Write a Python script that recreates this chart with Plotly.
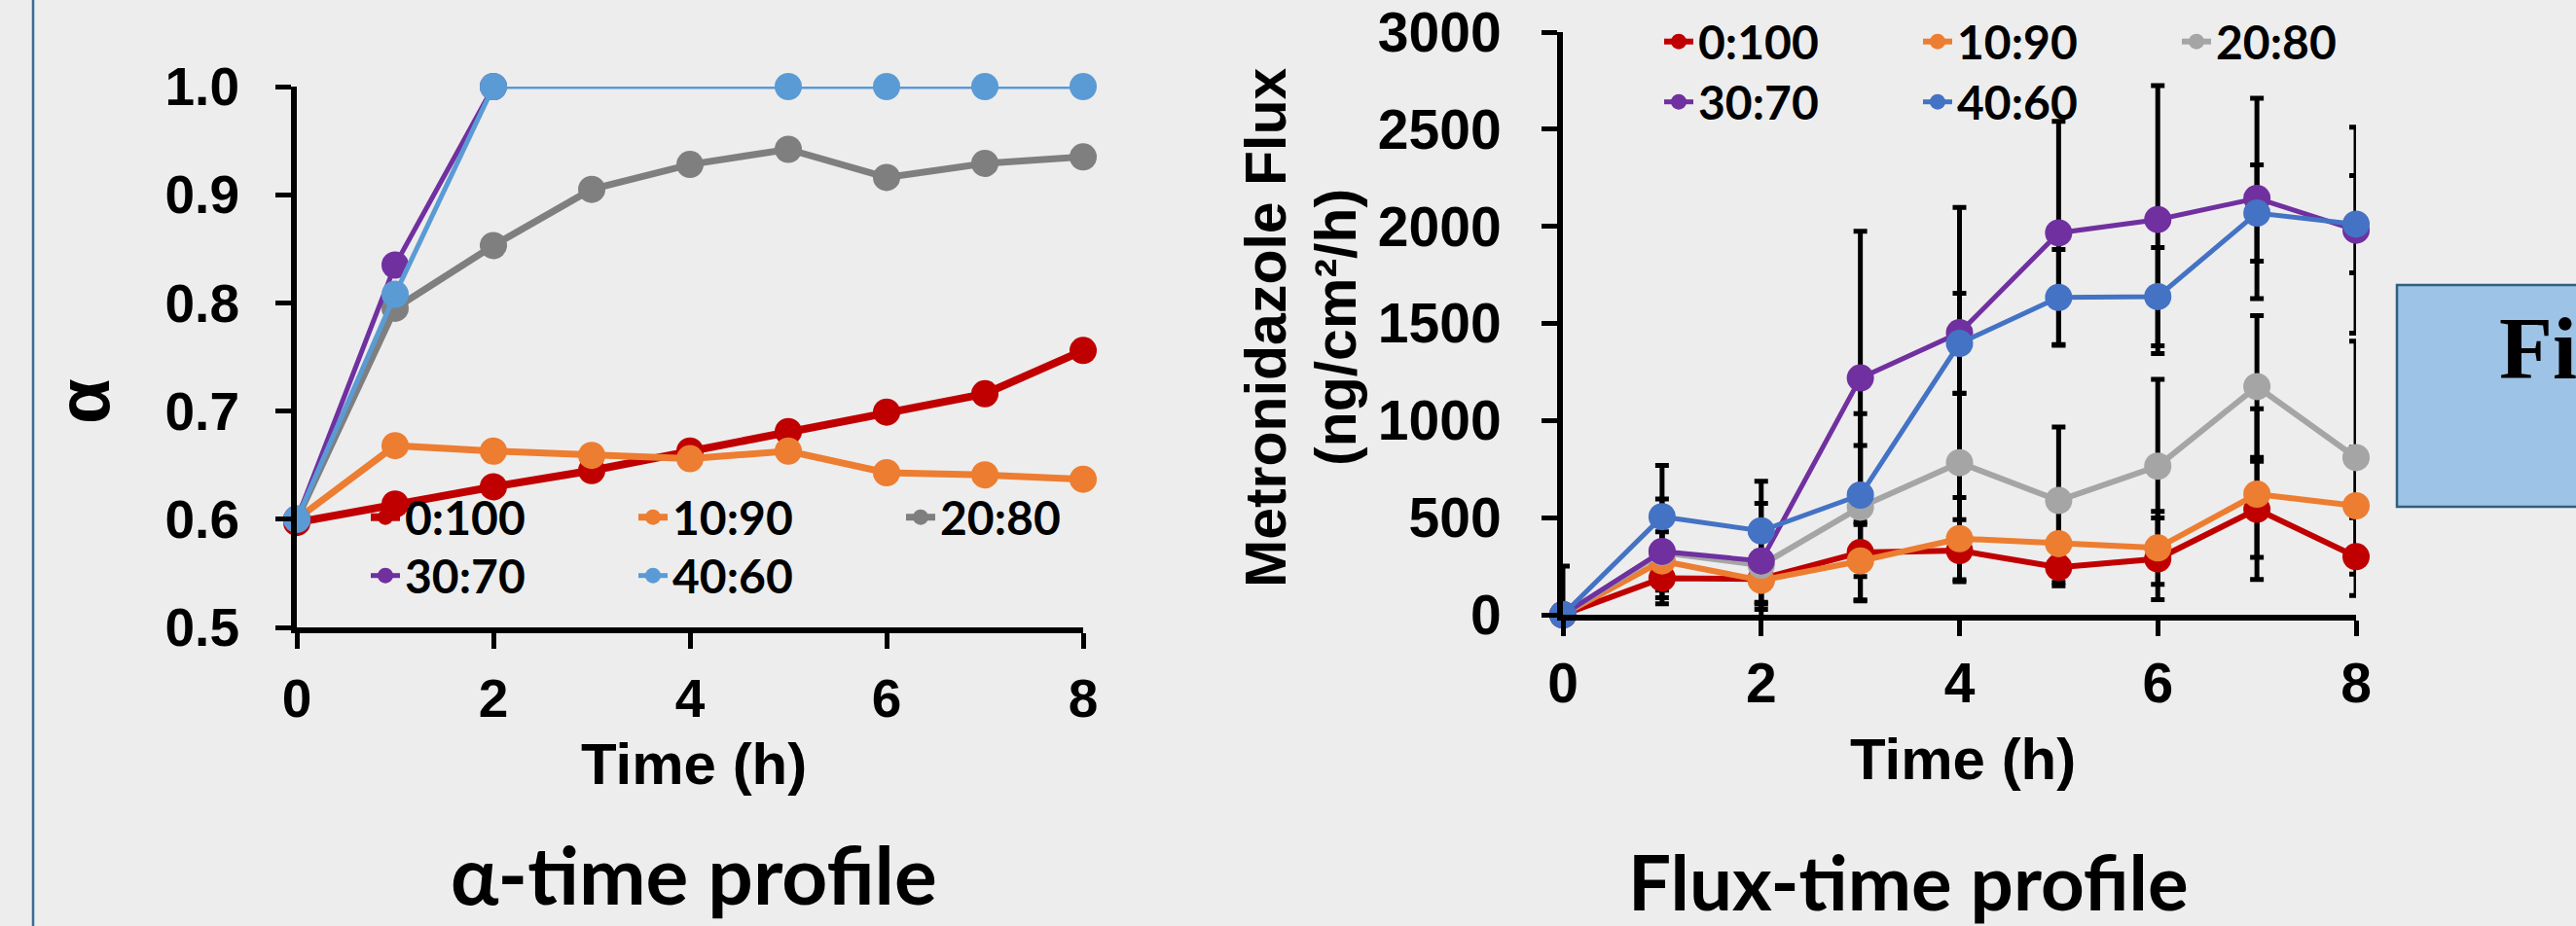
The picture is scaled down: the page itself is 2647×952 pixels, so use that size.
import plotly.graph_objects as go

W, H = 2647, 952

# ---------------- data ----------------
time_h = [0, 1, 2, 3, 4, 5, 6, 7, 8]
series_names = ["0:100", "10:90", "20:80", "30:70", "40:60"]

# alpha-time profile
alpha_0_100 = [0.597, 0.614, 0.630, 0.645, 0.663, 0.681, 0.699, 0.716, 0.756]
alpha_10_90 = [0.600, 0.668, 0.663, 0.659, 0.656, 0.663, 0.643, 0.641, 0.637]
alpha_20_80 = [0.600, 0.795, 0.853, 0.905, 0.928, 0.942, 0.916, 0.929, 0.935]
alpha_30_70_time = [0, 1, 2]
alpha_30_70 = [0.600, 0.835, 1.000]
alpha_40_60_time = [0, 1, 2, 5, 6, 7, 8]
alpha_40_60 = [0.600, 0.808, 1.000, 1.000, 1.000, 1.000, 1.000]

# flux-time profile (ng/cm2/h)
flux_0_100 = [0, 188, 184, 321, 330, 244, 288, 543, 299]
flux_10_90 = [0, 277, 177, 277, 392, 366, 344, 621, 561]
flux_20_80 = [0, 321, 255, 554, 783, 588, 765, 1175, 809]
flux_30_70 = [0, 326, 277, 1219, 1452, 1966, 2035, 2144, 1980]
flux_40_60 = [0, 505, 432, 616, 1397, 1634, 1638, 2068, 2011]

err_0_100 = [0, 100, 120, 250, 160, 95, 210, 247, 200]
err_10_90 = [0, 150, 150, 200, 212, 200, 188, 439, 300]
err_20_80 = [250, 150, 200, 317, 358, 378, 447, 365, 600]
err_30_70 = [0, 270, 297, 755, 645, 575, 690, 516, 530]
err_40_60 = [0, 264, 256, 420, 258, 247, 253, 248, 250]

alpha_ticks = [0.5, 0.6, 0.7, 0.8, 0.9, 1.0]
flux_ticks = [0, 500, 1000, 1500, 2000, 2500, 3000]
time_ticks = [0, 2, 4, 6, 8]

left_colors = ["#C00000", "#ED7D31", "#7F7F7F", "#7030A0", "#5B9BD5"]
right_colors = ["#C00000", "#ED7D31", "#A5A5A5", "#7030A0", "#4472C4"]
left_widths = [8, 7, 7, 5, 5]
right_widths = [6, 6, 6, 5, 5]

BG = "#EDEDED"
SANS = "Liberation Sans, Arial, sans-serif"
LEFT_TICK_FONT = dict(family=SANS, size=55, color="black", weight="bold")
RIGHT_TICK_FONT = dict(family=SANS, size=57, color="black", weight="bold")
AXTITLE_FONT = dict(family=SANS, size=60, color="black", weight="bold")
FLUX_TITLE_FONT = dict(family=SANS, size=59, color="black", weight="bold")
LEG_FONT = dict(family="Lato, sans-serif", size=48, color="black", weight="bold")


def px(x):
    return x / W


def py(y):
    return 1 - y / H


fig = go.Figure()

# ---------------- left: alpha-time ----------------
left_x = [time_h, time_h, time_h, alpha_30_70_time, alpha_40_60_time]
left_y = [alpha_0_100, alpha_10_90, alpha_20_80, alpha_30_70, alpha_40_60]
left_legend = ["legend", "legend", "legend", "legend2", "legend2"]
for i in range(5):
    fig.add_trace(go.Scatter(
        x=left_x[i], y=left_y[i], name=series_names[i], mode="lines+markers",
        line=dict(color=left_colors[i], width=left_widths[i]),
        marker=dict(color=left_colors[i], size=28),
        xaxis="x", yaxis="y", legend=left_legend[i], cliponaxis=False,
    ))

# ---------------- right: flux-time ----------------
flux_vals = [flux_0_100, flux_10_90, flux_20_80, flux_30_70, flux_40_60]
flux_errs = [err_0_100, err_10_90, err_20_80, err_30_70, err_40_60]
# error bars first (drawn behind every series)
for i in range(5):
    fig.add_trace(go.Scatter(
        x=time_h, y=flux_vals[i], mode="markers",
        marker=dict(color="rgba(0,0,0,0)", size=2),
        error_y=dict(type="data", array=flux_errs[i], visible=True,
                     color="black", thickness=5, width=7),
        xaxis="x2", yaxis="y2", showlegend=False, hoverinfo="skip", cliponaxis=False,
    ))
right_legend = ["legend3", "legend3", "legend3", "legend4", "legend4"]
for i in range(5):
    fig.add_trace(go.Scatter(
        x=time_h, y=flux_vals[i], name=series_names[i], mode="lines+markers",
        line=dict(color=right_colors[i], width=right_widths[i]),
        marker=dict(color=right_colors[i], size=28),
        xaxis="x2", yaxis="y2", legend=right_legend[i], cliponaxis=False,
    ))

axis_common = dict(
    showline=True, linecolor="black", linewidth=6,
    ticks="outside", ticklen=16, tickwidth=5, tickcolor="black",
    showgrid=False, zeroline=False, fixedrange=True, automargin=False,
    ticklabeloverflow="allow",
)

leg_common = dict(orientation="h", font=LEG_FONT, bgcolor="rgba(0,0,0,0)",
                  xanchor="left", yanchor="middle", entrywidthmode="pixels",
                  itemclick=False, itemdoubleclick=False, tracegroupgap=0)

fig.update_layout(
    width=W, height=H, autosize=False,
    margin=dict(l=0, r=0, t=0, b=0, pad=0, autoexpand=False),
    paper_bgcolor=BG, plot_bgcolor=BG,
    xaxis=dict(domain=[px(305), px(1113)], range=[0, 8], tickvals=time_ticks,
               anchor="y", tickfont=LEFT_TICK_FONT, ticklabelstandoff=4, **axis_common),
    yaxis=dict(domain=[py(645), py(89)], range=[0.5, 1.0], tickvals=alpha_ticks,
               tickformat=".1f", anchor="x", tickfont=LEFT_TICK_FONT, ticklabelstandoff=26,
               **axis_common),
    xaxis2=dict(domain=[px(1606), px(2421)], range=[0, 8], tickvals=time_ticks,
                anchor="y2", tickfont=RIGHT_TICK_FONT, ticklabelstandoff=0, **axis_common),
    yaxis2=dict(domain=[py(632), py(33)], range=[0, 3000], tickvals=flux_ticks,
                anchor="x2", tickfont=RIGHT_TICK_FONT, ticklabelstandoff=30, **axis_common),
    legend=dict(x=px(376), y=py(532), entrywidth=230, **leg_common),
    legend2=dict(x=px(376), y=py(592), entrywidth=230, **leg_common),
    legend3=dict(x=px(1705), y=py(43), entrywidth=221, **leg_common),
    legend4=dict(x=px(1705), y=py(105), entrywidth=221, **leg_common),
    showlegend=True,
)

# axis titles and panel titles
ann = [
    dict(text="α", x=px(85), y=py(413), textangle=-90,
         font=dict(family=SANS, size=76, color="black", weight="bold")),
    dict(text="Time (h)", x=px(713), y=py(785), font=AXTITLE_FONT),
    dict(text="Metronidazole Flux", x=px(1301), y=py(337), textangle=-90, font=FLUX_TITLE_FONT),
    dict(text="(ng/cm²/h)", x=px(1373), y=py(337), textangle=-90, font=FLUX_TITLE_FONT),
    dict(text="Time (h)", x=px(2017), y=py(780), font=AXTITLE_FONT),
    dict(text="α-time profile", x=px(713), y=py(898),
         font=dict(family="Lato, sans-serif", size=82, color="black", weight="bold")),
    dict(text="Flux-time profile", x=px(1961), y=py(906),
         font=dict(family="Lato, sans-serif", size=78, color="black", weight="bold")),
    dict(text="Fi", x=px(2566), y=py(358), xanchor="left",
         font=dict(family="Liberation Serif, Times New Roman, serif", size=90, color="black", weight="bold")),
]
for a in ann:
    a.setdefault("xanchor", "center")
    fig.add_annotation(xref="paper", yref="paper", yanchor="middle", showarrow=False, **a)

# left frame line and the figure-caption box
fig.add_shape(type="line", xref="paper", yref="paper", x0=px(34), x1=px(34), y0=0, y1=1,
              line=dict(color="#3B6C94", width=2.5))
fig.add_shape(type="rect", xref="paper", yref="paper", x0=px(2463), x1=px(2660), y0=py(521), y1=py(293),
              fillcolor="#9DC3E6", line=dict(color="#2F5F80", width=2.5), layer="below")

fig.write_html(
    "out.html",
    config={"displayModeBar": False, "responsive": False},
    post_script="document.body.style.margin='0px';document.body.style.overflow='hidden';",
)
